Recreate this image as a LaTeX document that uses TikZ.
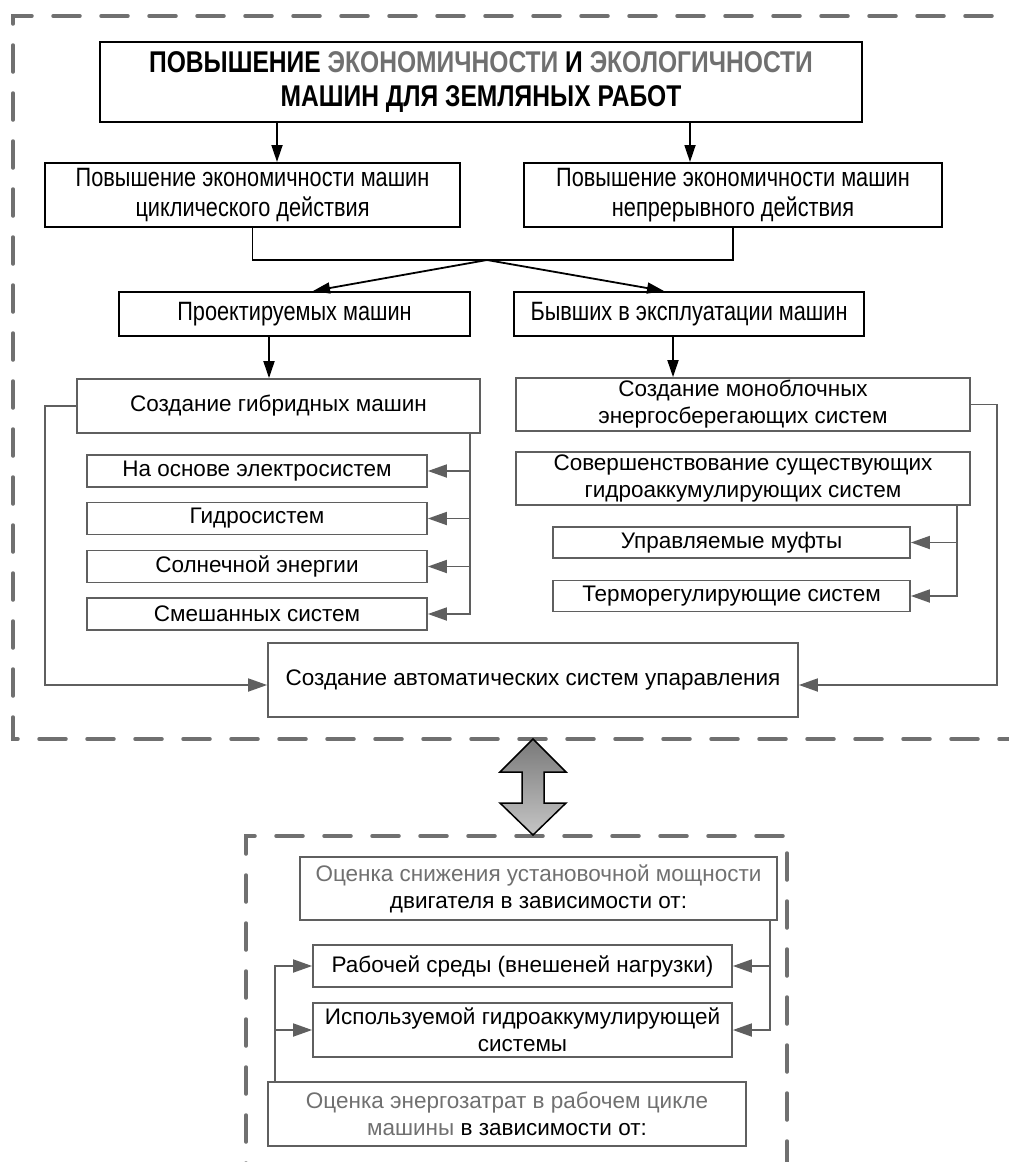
\documentclass[tikz,border=0pt]{standalone}
\usepackage{fontspec}
\setmainfont{Liberation Sans}
\newfontfamily\narrowfont[FakeStretch=0.82]{Liberation Sans}
\usetikzlibrary{arrows.meta}
\definecolor{linegray}{RGB}{95,95,95}
\definecolor{textgray}{RGB}{112,112,112}
\definecolor{zonegray}{RGB}{112,112,112}
\newcommand{\gr}[1]{\textcolor{textgray}{#1}}

\begin{document}
\begin{tikzpicture}[x=1pt, y=-1pt,
		topbox/.style={draw=black, line width=2pt, inner sep=0pt, align=center, font=\narrowfont\fontsize{26.5}{30}\selectfont},
		midbox/.style={draw=linegray, line width=1.8pt, inner sep=0pt, align=center, font=\fontsize{22.5}{27}\selectfont},
		blk/.style={line width=1.8pt, -{Stealth[length=17pt, width=11pt, inset=0pt]}},
		gry/.style={linegray, line width=1.8pt, -{Stealth[length=19pt, width=13pt, inset=0pt]}},
		zone/.style={draw=zonegray, line width=3.5pt, line cap=round, dash pattern=on 27pt off 21pt}]
	\useasboundingbox (0,0) rectangle (1009,1162);
	\fill[white] (0,0) rectangle (1009,1162);

	% dashed areas
	\draw[zone] (1040,16) -- (13,16) -- (13,739) -- (1040,739);
	\draw[zone] (246,1190) -- (246,836) -- (787,836) -- (787,1190);

	% upper part
	\node[topbox, font=\narrowfont\bfseries\fontsize{30}{34}\selectfont, minimum width=762pt, minimum height=80pt] (title) at (481,82)
		{ПОВЫШЕНИЕ \gr{ЭКОНОМИЧНОСТИ} И \gr{ЭКОЛОГИЧНОСТИ}\\ МАШИН ДЛЯ ЗЕМЛЯНЫХ РАБОТ};
	\node[topbox, minimum width=415pt, minimum height=64pt] (cyc) at (252.5,195) {Повышение экономичности машин\\ циклического действия};
	\node[topbox, minimum width=418pt, minimum height=64pt] (cont) at (733,195) {Повышение экономичности машин\\ непрерывного действия};
	\node[topbox, minimum width=351pt, minimum height=44pt] (proj) at (294.5,314) {Проектируемых машин};
	\node[topbox, minimum width=350pt, minimum height=44pt] (used) at (689,314) {Бывших в эксплуатации машин};

	\node[midbox, minimum width=403pt, minimum height=54pt] (hyb) at (278.5,406) {Создание гибридных машин};
	\node[midbox, minimum width=340pt, minimum height=32pt] (el) at (257,471) {На основе электросистем};
	\node[midbox, minimum width=340pt, minimum height=32pt] (hy) at (257,518.5) {Гидросистем};
	\node[midbox, minimum width=340pt, minimum height=32pt] (sol) at (257,566.5) {Солнечной энергии};
	\node[midbox, minimum width=340pt, minimum height=32pt] (mix) at (257,614) {Смешанных систем};
	\node[midbox, minimum width=454pt, minimum height=53pt] (mono) at (743,404.5) {Создание моноблочных\\ энергосберегающих систем};
	\node[midbox, minimum width=454pt, minimum height=53pt] (impr) at (743,478.5) {Совершенствование существующих\\ гидроаккумулирующих систем};
	\node[midbox, minimum width=357pt, minimum height=31pt] (clutch) at (731.5,542.5) {Управляемые муфты};
	\node[midbox, minimum width=357pt, minimum height=31pt] (thermo) at (731.5,596) {Терморегулирующие систем};
	\node[midbox, minimum width=530pt, minimum height=74pt] (auto) at (533,680) {Создание автоматических систем упаравления};

	\coordinate (m) at (487,260);
	\coordinate (xa) at (277,0);
	\coordinate (xb) at (690,0);
	\coordinate (xc) at (313,0);
	\coordinate (xd) at (664,0);
	\coordinate (xe) at (269,0);
	\coordinate (xf) at (673,0);
	\coordinate (xg) at (470,0);
	\coordinate (xh) at (957,0);
	\coordinate (al) at (45,685);
	\coordinate (ar) at (997,685);

	\path[blk]
	(title.south -| xa) edge (cyc.north -| xa)
	(title.south -| xb) edge (cont.north -| xb)
	(m) edge (proj.north -| xc)
		edge (used.north -| xd)
	(proj.south -| xe) edge (hyb.north -| xe)
	(used.south -| xf) edge (mono.north -| xf);
	\draw[line width=1.8pt] (cyc.south) |- (m) -| (cont.south);

	\draw[gry] (hyb.south -| xg) |- (mix.east);
	\path[gry]
	(el.east -| xg) edge (el.east)
	(hy.east -| xg) edge (hy.east)
	(sol.east -| xg) edge (sol.east);
	\draw[gry] (impr.south -| xh) |- (thermo.east);
	\path[gry] (clutch.east -| xh) edge (clutch.east);
	\draw[gry] (hyb.west) -| (al) -- (al -| auto.west);
	\draw[gry] (mono.east) -| (ar) -- (ar -| auto.east);

	% link between the two areas
	\filldraw[draw=black, line width=1.5pt, top color=gray!95!black, bottom color=gray!45]
		(533,739) -- (566,772) -- (544,772) -- (544,803) -- (566,803) -- (533,835)
		-- (500,803) -- (522,803) -- (522,772) -- (500,772) -- cycle;

	% lower part
	\node[midbox, minimum width=477pt, minimum height=63pt] (est1) at (538.5,888.5) {\gr{Оценка снижения установочной мощности}\\ двигателя в зависимости от:};
	\node[midbox, minimum width=419pt, minimum height=42pt] (env) at (522.5,966) {Рабочей среды (внешеней нагрузки)};
	\node[midbox, minimum width=419pt, minimum height=54pt] (acc) at (522.5,1030) {Используемой гидроаккумулирующей\\ системы};
	\node[midbox, minimum width=478pt, minimum height=64pt] (est2) at (507,1114) {\gr{Оценка энергозатрат в рабочем цикле}\\ \gr{машины} в зависимости от:};

	\coordinate (xr) at (770,0);
	\coordinate (xq) at (275,0);
	\draw[gry] (est1.south -| xr) |- (acc.east);
	\path[gry] (env.east -| xr) edge (env.east);
	\draw[gry] (est2.north -| xq) |- (env.west);
	\path[gry] (acc.west -| xq) edge (acc.west);

\end{tikzpicture}
\end{document}
